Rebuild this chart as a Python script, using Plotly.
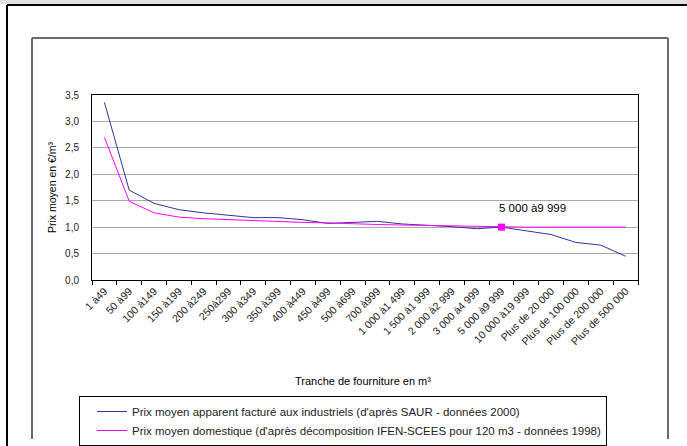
import plotly.graph_objects as go

categories = ["1 à49", "50 à99", "100 à149", "150 à199", "200 à249", "250à299",
              "300 à349", "350 à399", "400 à449", "450 à499", "500 à699", "700 à999",
              "1 000 à1 499", "1 500 à1 999", "2 000 à2 999", "3 000 à4 999",
              "5 000 à9 999", "10 000 à19 999", "Plus de 20 000", "Plus de 100 000",
              "Plus de 200 000", "Plus de 500 000"]

industriels = [3.36, 1.70, 1.45, 1.33, 1.27, 1.22, 1.18, 1.18, 1.14, 1.07, 1.09, 1.11,
               1.06, 1.04, 1.01, 0.97, 1.00, 0.93, 0.86, 0.71, 0.66, 0.45]

domestique = [2.70, 1.49, 1.27, 1.19, 1.16, 1.14, 1.13, 1.11, 1.09, 1.08, 1.06, 1.05,
              1.04, 1.03, 1.02, 1.01, 1.00, 1.00, 1.00, 1.00, 1.00, 1.00]

highlight_index = 16
highlight_label = "5 000 à9 999"

name_ind = "Prix moyen apparent facturé aux industriels (d'après SAUR - données 2000)"
name_dom = "Prix moyen domestique (d'après décomposition IFEN-SCEES pour 120 m3 - données 1998)"

W, H = 687, 446
L, R, T, B = 92, 638, 95, 280


def px(x):
    return (x - L) / (R - L)


def py(y):
    return (B - y) / (B - T)


FONT = "Liberation Sans, Arial, sans-serif"

fig = go.Figure()
fig.add_trace(go.Scatter(x=categories, y=industriels, mode="lines", name=name_ind,
                         line=dict(color="#333399", width=1)))
fig.add_trace(go.Scatter(x=categories, y=domestique, mode="lines", name=name_dom,
                         line=dict(color="#ff00ff", width=1)))
fig.add_trace(go.Scatter(x=[categories[highlight_index]], y=[domestique[highlight_index]],
                         mode="markers", showlegend=False,
                         marker=dict(symbol="square", size=7, color="#ff00ff")))

shapes = [
    # top strip
    dict(type="rect", xref="paper", yref="paper", x0=px(0), x1=px(W), y0=py(0), y1=py(4),
         fillcolor="#e2e2da", line=dict(width=0), layer="below"),
    # outer border
    dict(type="line", xref="paper", yref="paper", x0=px(7), x1=px(W + 5), y0=py(5), y1=py(5),
         line=dict(color="#000000", width=2)),
    dict(type="line", xref="paper", yref="paper", x0=px(7), x1=px(7), y0=py(5), y1=py(H + 5),
         line=dict(color="#000000", width=2)),
    # inner frame
    dict(type="line", xref="paper", yref="paper", x0=px(32), x1=px(668), y0=py(38), y1=py(38),
         line=dict(color="#6a6a6a", width=2)),
    dict(type="line", xref="paper", yref="paper", x0=px(32), x1=px(32), y0=py(38), y1=py(439),
         line=dict(color="#6a6a6a", width=2)),
    dict(type="line", xref="paper", yref="paper", x0=px(668), x1=px(668), y0=py(38), y1=py(439),
         line=dict(color="#6a6a6a", width=2)),
]

annotations = [
    dict(x=categories[highlight_index], y=1.36, xref="x", yref="y", text=highlight_label,
         showarrow=False, xanchor="left", yanchor="middle", xshift=-5,
         font=dict(family=FONT, size=11.5, color="#000000")),
    dict(x=px(363), y=py(381), xref="paper", yref="paper", text="Tranche de fourniture en m³",
         showarrow=False, xanchor="center", yanchor="middle",
         font=dict(family=FONT, size=11, color="#000000")),
]

fig.update_layout(
    width=W, height=H,
    margin=dict(l=L, r=W - R, t=T, b=H - B, pad=0, autoexpand=False),
    paper_bgcolor="#ffffff", plot_bgcolor="#ffffff",
    separators=", ",
    font=dict(family=FONT, size=10, color="#000000"),
    shapes=shapes,
    annotations=annotations,
    showlegend=True,
    legend=dict(x=px(79), y=py(396), xanchor="left", yanchor="top",
                bordercolor="#000000", borderwidth=1, bgcolor="#ffffff",
                font=dict(family=FONT, size=11.5, color="#222222"),
                itemwidth=30, tracegroupgap=0, indentation=12),
    xaxis=dict(type="category", range=[-0.5, len(categories) - 0.5], automargin=False,
               tickson="boundaries", ticks="outside", ticklen=4, tickcolor="#000000",
               tickangle=-45, showgrid=False, showline=True, linecolor="#000000",
               linewidth=1, mirror=True, zeroline=False,
               tickfont=dict(family=FONT, size=10.5, color="#222222")),
    yaxis=dict(range=[0, 3.5], dtick=0.5, tickformat=".1f", showgrid=True, automargin=False,
               gridcolor="#a8a8a8", gridwidth=1, showline=True, linecolor="#000000",
               linewidth=1, mirror=True, zeroline=False, ticks="", ticklabelstandoff=10,
               title=dict(text="Prix moyen en €/m³", standoff=6,
                          font=dict(family=FONT, size=10.5, color="#000000")),
               tickfont=dict(family=FONT, size=10, color="#222222")),
)

fig.write_html("out.html", config={"displayModeBar": False},
               post_script="document.body.style.margin='0';")
